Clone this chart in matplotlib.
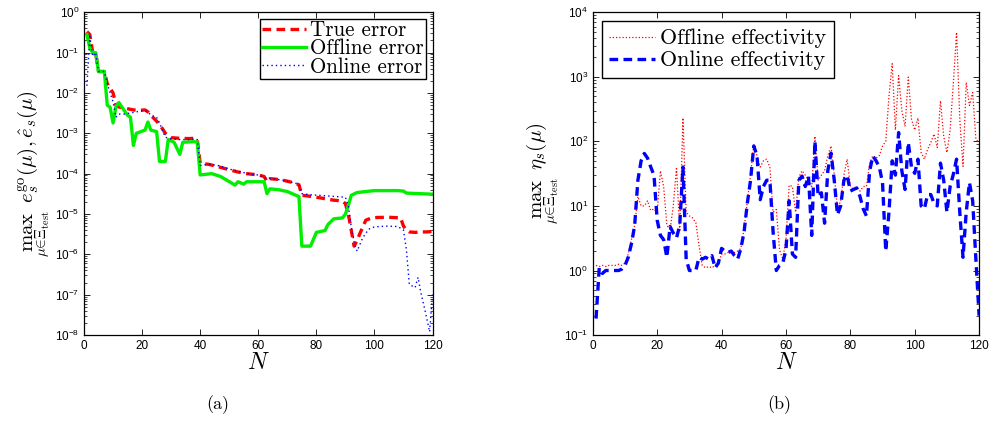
import matplotlib
matplotlib.use('Agg')
import matplotlib.pyplot as plt
from matplotlib.ticker import LogLocator, NullFormatter, MultipleLocator

# Error bounds (left panel): N positions and max error over the test set
true_err_n = [1, 2, 3, 4, 5, 7, 8, 10, 11, 12, 14, 17, 19, 21, 22, 23, 25, 27, 28, 30,
              33, 36, 38, 39, 40, 43, 46, 50, 53, 56, 60, 62, 63, 64, 66, 68, 70, 72, 74,
              75, 77, 80, 83, 86, 89, 90, 91, 92, 93, 94, 95, 97, 99, 101, 105, 109, 110,
              111, 112, 114, 116, 118, 120]
true_err = [0.33, 0.28, 0.1, 0.1, 0.034, 0.034, 0.017, 0.01, 0.005, 0.0045, 0.0042, 0.0038,
            0.0037, 0.0038, 0.0034, 0.0028, 0.002, 0.0013, 0.001, 0.00078, 0.00075, 0.00074,
            0.00075, 0.0007, 0.00018, 0.00017, 0.00015, 0.000125, 0.00011, 0.0001, 9.3e-5,
            8.5e-5, 6.3e-5, 7.5e-5, 7.3e-5, 7e-5, 6.5e-5, 6e-5, 5.3e-5, 2.9e-5, 2.8e-5,
            2.6e-5, 2.4e-5, 2.2e-5, 2.1e-5, 1.8e-5, 1e-5, 4e-6, 1.6e-6, 2.2e-6, 3.3e-6,
            7e-6, 8e-6, 8.2e-6, 8.3e-6, 8e-6, 5e-6, 4e-6, 3.6e-6, 3.5e-6, 3.6e-6, 3.6e-6,
            3.7e-6]

offline_err_n = [1, 2, 3, 4, 5, 7, 8, 9, 10, 11, 12, 13, 15, 16, 17, 18, 21, 22, 23, 25,
                 26, 28, 29, 31, 33, 34, 38, 39, 40, 44, 47, 49, 52, 53, 55, 56, 62, 63, 64,
                 67, 70, 73, 74, 75, 78, 80, 83, 84, 86, 89, 90, 91, 92, 94, 97, 100, 108,
                 110, 111, 115, 120]
offline_err = [0.28, 0.13, 0.1, 0.1, 0.034, 0.034, 0.005, 0.0044, 0.0018, 0.0046, 0.0058,
               0.0045, 0.0028, 0.0025, 0.0005, 0.001, 0.0012, 0.0019, 0.0012, 0.0011, 0.0002,
               0.0002, 0.0007, 0.0006, 0.0003, 0.0006, 0.00062, 0.0006, 9.3e-5, 1e-4, 8.5e-5,
               7e-5, 5.2e-5, 6.3e-5, 5.5e-5, 6.3e-5, 6.3e-5, 3.2e-5, 4.2e-5, 4e-5, 3.6e-5,
               2.9e-5, 2.7e-5, 1.6e-6, 1.6e-6, 3.5e-6, 3.9e-6, 5.5e-6, 7.6e-6, 8e-6, 1e-5,
               1.6e-5, 2.9e-5, 3.4e-5, 3.6e-5, 3.8e-5, 3.8e-5, 3.7e-5, 3.3e-5, 3.2e-5, 3.1e-5]

online_err_n = [1, 2, 3, 4, 5, 7, 8, 9, 10, 11, 12, 14, 16, 19, 21, 22, 23, 25, 26, 27, 28,
                30, 33, 36, 38, 39, 40, 43, 46, 50, 54, 58, 60, 62, 64, 68, 72, 74, 75, 78,
                81, 84, 87, 90, 91, 92, 93, 94, 96, 98, 100, 104, 108, 110, 111, 112, 114,
                115, 116, 117, 118, 119, 120]
online_err = [0.015, 0.25, 0.08, 0.1, 0.034, 0.034, 0.017, 0.01, 0.006, 0.0025, 0.003, 0.003,
              0.0032, 0.0035, 0.0036, 0.0034, 0.0028, 0.0025, 0.0018, 0.0012, 0.0008, 0.00072,
              0.0007, 0.0007, 0.00072, 0.0007, 0.00016, 0.00017, 0.00016, 0.00013, 0.00011,
              9.5e-5, 9.3e-5, 8e-5, 7.5e-5, 7e-5, 6e-5, 5.5e-5, 3.2e-5, 3e-5, 2.9e-5, 2.8e-5,
              2.7e-5, 2.6e-5, 1.6e-5, 4.8e-6, 2e-6, 1.2e-6, 2.6e-6, 4.2e-6, 4.8e-6, 5e-6,
              4.9e-6, 4e-6, 1.3e-6, 1.8e-7, 1.5e-7, 2.7e-7, 1.1e-7, 5.5e-8, 2.6e-8, 1.2e-8,
              1.1e-7]

# Effectivities (right panel), one value per N = 1..120
eff_n = list(range(1, 121))
offline_eff = [1.2, 1.15, 1.2, 1.15, 1.2, 1.2, 1.2, 1.25, 1.2, 1.3,
               1.8, 3, 5, 14, 10, 10, 12, 8.5, 9, 8,
               35, 20, 5, 4.3, 10, 40, 4, 230, 8, 7,
               6.5, 5.5, 2.4, 1.2, 1.1, 1.15, 1.1, 1.2, 1.3, 1.8,
               1.8, 1.9, 1.9, 1.9, 2.0, 2.2, 4.5, 12, 30, 90,
               60, 40, 50, 53, 40, 8, 8.8, 2.1, 1.5, 3,
               21, 20, 8, 28, 35, 30, 25, 20, 120, 25,
               30, 35, 60, 85, 30, 9, 12, 30, 53, 20,
               18, 19, 17, 20, 20, 46, 60, 55, 60, 85,
               100, 500, 1600, 150, 1040, 300, 170, 990, 220, 150,
               230, 67, 53, 75, 96, 130, 80, 425, 120, 67,
               150, 800, 4900, 220, 41, 820, 360, 570, 108, 96]
online_eff = [0.18, 1.1, 0.9, 1.0, 1.0, 1.0, 1.0, 1.0, 1.05, 1.2,
              1.6, 2.6, 5, 25, 50, 65, 55, 40, 30, 6,
              3.5, 3.0, 1.6, 4.8, 3.8, 3.2, 5, 40, 1.5, 1.0,
              1.0, 1.0, 1.6, 1.5, 1.6, 1.5, 1.7, 1.1, 1.3, 2.2,
              2.0, 1.9, 2.0, 1.7, 1.5, 2.2, 4, 11, 25, 85,
              60, 12.5, 20, 25, 25, 4, 1.0, 1.2, 1.3, 2.1,
              12, 1.8, 1.6, 25, 29, 20, 29, 3.5, 100, 14,
              16, 5.4, 35, 66, 25, 7.3, 10, 25, 30, 17,
              18, 19, 14, 9, 7, 35, 59, 50, 40, 23,
              2, 8, 50, 30, 137, 35, 18, 96, 40, 32,
              53, 10, 9, 15, 15, 11, 10, 46, 25, 8,
              20, 31, 53, 8, 1.6, 8, 23, 12, 1.5, 0.2]

error_labels = ['True error', 'Offline error', 'Online error']
eff_labels = ['Offline effectivity', 'Online effectivity']

CM = 'cmr10'


def style_axis(ax, ymin, ymax):
    ax.set_yscale('log')
    ax.set_xlim(0, 120)
    ax.set_ylim(ymin, ymax)
    ax.xaxis.set_major_locator(MultipleLocator(20))
    ax.yaxis.set_major_locator(LogLocator(base=10, numticks=20))
    ax.yaxis.set_minor_locator(LogLocator(base=10, subs=range(2, 10), numticks=20))
    ax.yaxis.set_minor_formatter(NullFormatter())
    ax.tick_params(which='both', direction='in', top=True, right=True, labelsize=8.5)
    ax.tick_params(which='major', length=4, width=0.6)
    ax.tick_params(which='minor', length=2, width=0.5)
    for spine in ax.spines.values():
        spine.set_linewidth(0.9)
    ax.set_xlabel(r'$N$', fontsize=17, math_fontfamily='cm', labelpad=0)


def make_legend(ax, loc, size, spacing, pad, axespad):
    leg = ax.legend(loc=loc, prop={'family': CM, 'size': size},
                    handlelength=2.1, handletextpad=0.2, borderpad=pad,
                    labelspacing=spacing, borderaxespad=axespad, fancybox=False,
                    framealpha=1, edgecolor='black')
    leg.get_frame().set_linewidth(1.0)
    return leg


def draw_errors(ax):
    ax.plot(true_err_n, true_err, color='#ff0000', lw=2.4, ls=(0, (2.6, 1.6)),
            label=error_labels[0])
    ax.plot(offline_err_n, offline_err, color='#00ee00', lw=2.4, ls='-',
            label=error_labels[1])
    ax.plot(online_err_n, online_err, color='#0000ff', lw=1.0, ls=(0, (1, 2.2)),
            label=error_labels[2])
    style_axis(ax, 1e-8, 1)
    ax.set_ylabel(r'$\max_{\mu\in\Xi_{\rm test}}\ e_s^{\rm go}(\mu), \hat{e}_s(\mu)$',
                  fontsize=15, math_fontfamily='cm', labelpad=2)
    make_legend(ax, 'upper right', 15.2, -0.06, 0.1, 0.3)


def draw_effectivities(ax):
    ax.plot(eff_n, offline_eff, color='#ff0000', lw=0.9, ls=(0, (1, 1.6)),
            label=eff_labels[0])
    ax.plot(eff_n, online_eff, color='#0000ff', lw=2.4, ls=(0, (2.6, 1.6)),
            label=eff_labels[1])
    style_axis(ax, 0.1, 1e4)
    ax.set_ylabel(r'$\max_{\mu\in\Xi_{\rm test}}\ \eta_s(\mu)$',
                  fontsize=15, math_fontfamily='cm', labelpad=2)
    make_legend(ax, 'upper left', 15.8, 0.12, 0.35, 0.4)


def main():
    plt.rcParams['font.family'] = ['Liberation Sans', 'DejaVu Sans']
    plt.rcParams['axes.unicode_minus'] = False

    fig = plt.figure(figsize=(9.93, 4.22), dpi=100)
    ax_err = fig.add_axes([0.0846, 0.206, 0.351, 0.765])
    ax_eff = fig.add_axes([0.597, 0.206, 0.389, 0.765])

    draw_errors(ax_err)
    draw_effectivities(ax_eff)

    fig.text(0.219, 0.03, '(a)', family=CM, fontsize=13, ha='center')
    fig.text(0.785, 0.03, '(b)', family=CM, fontsize=13, ha='center')

    fig.savefig('out.png', dpi=100)


if __name__ == '__main__':
    main()
